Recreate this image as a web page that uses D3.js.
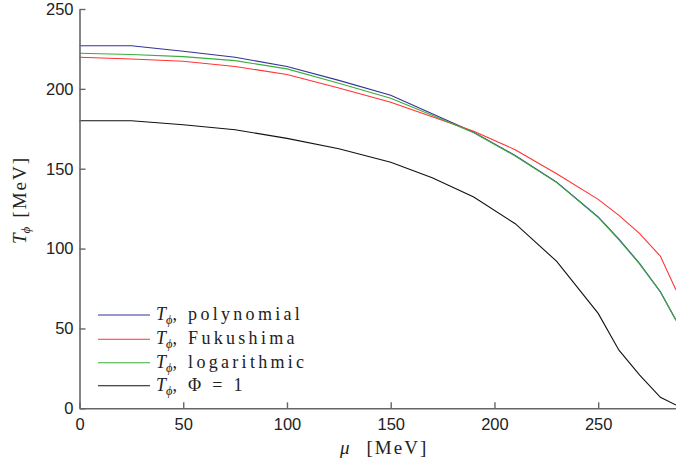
<!DOCTYPE html>
<html>
<head>
<meta charset="utf-8">
<script src="https://cdn.jsdelivr.net/npm/d3@7"></script>
<style>
  html, body { margin: 0; padding: 0; background: #fff; }
  svg { display: block; }
  .tick text { font-family: "Liberation Sans", Arial, sans-serif; font-size: 16.5px; fill: #222; }
  .serif { font-family: "Liberation Serif", "DejaVu Serif", serif; fill: #222; }
</style>
</head>
<body>
<script>
// chemical potential grid (MeV)
const mu = [0, 25, 50, 75, 100, 125, 150, 170, 190, 210, 230, 250, 260, 270, 280, 287.5];

// deconfinement temperature T_phi (MeV) for each Polyakov-loop potential
const tPolynomial  = [227, 227, 223.5, 219.8, 214, 205.3, 196, 184.4, 172.9, 158.3, 141.6, 119.8, 106, 90.6, 72.9, 55.2];
const tFukushima   = [219.8, 218.7, 217.3, 214, 209, 200.5, 191.6, 182.5, 173.5, 161.9, 146.9, 130.8, 120.8, 109.4, 95.2, 74];
const tLogarithmic = [222.3, 221.5, 220.2, 217.7, 212.5, 203.5, 194.1, 183.5, 172.5, 158, 141.3, 119.5, 105.5, 90.3, 72.8, 55];
const tPhiOne      = [180, 180, 177.5, 174.4, 169, 162.5, 154, 144.4, 132.3, 115.6, 92, 59.4, 36.4, 20.8, 6.9, 2];

const seriesNames = ["polynomial", "Fukushima", "logarithmic", "\u03A6 = 1"];
const seriesColors = ["#33339a", "#ff3333", "#3aad3a", "#111111"];
const seriesValues = [tPolynomial, tFukushima, tLogarithmic, tPhiOne];

const xTicks = [0, 50, 100, 150, 200, 250];
const yTicks = [0, 50, 100, 150, 200, 250];

const W = 676, H = 468;
const margin = { left: 79.5, right: 0, top: 9, bottom: 59.7 };

const svg = d3.select("body").append("svg").attr("width", W).attr("height", H);

const x = d3.scaleLinear().domain([0, 287.5]).range([margin.left, W - margin.right]);
const y = d3.scaleLinear().domain([0, 250]).range([H - margin.bottom, margin.top]);

// data lines
const line = d3.line().x((d, i) => x(mu[i])).y(d => y(d));
const plot = svg.append("g");
seriesValues.forEach((vals, k) => {
  plot.append("path")
    .datum(vals)
    .attr("d", line)
    .attr("fill", "none")
    .attr("stroke", seriesColors[k])
    .attr("stroke-width", 1.1);
});

// axes with inward ticks
const axisColor = "#666";
const gx = svg.append("g")
  .attr("transform", `translate(0,${y(0)})`)
  .call(d3.axisBottom(x).tickValues(xTicks).tickSize(-6).tickPadding(10).tickSizeOuter(0));
const gy = svg.append("g")
  .attr("transform", `translate(${x(0)},0)`)
  .call(d3.axisLeft(y).tickValues(yTicks).tickSize(-6).tickPadding(6).tickSizeOuter(0));
[gx, gy].forEach(g => {
  g.select(".domain").attr("stroke", axisColor).attr("stroke-width", 1.6);
  g.selectAll(".tick line").attr("stroke", axisColor).attr("stroke-width", 1.4);
});

// axis titles
const xt = svg.append("text").attr("class", "serif")
  .attr("x", 340).attr("y", 454).attr("font-size", 19);
xt.append("tspan").attr("font-style", "italic").text("\u03BC");
xt.append("tspan").attr("dx", 17).attr("letter-spacing", 2).text("[MeV]");

const yt = svg.append("text").attr("class", "serif")
  .attr("transform", `translate(26,${200}) rotate(-90)`)
  .attr("text-anchor", "middle").attr("font-size", 19);
yt.append("tspan").attr("font-style", "italic").text("T");
yt.append("tspan").attr("font-style", "italic").attr("font-size", 13).attr("dy", 4).text("\u03D5");
yt.append("tspan").attr("dy", -4).attr("dx", 9).attr("letter-spacing", 2).text("[MeV]");

// legend
const legendY = [315, 339.3, 362.7, 385.7];
const legend = svg.append("g");
seriesNames.forEach((name, k) => {
  legend.append("line")
    .attr("x1", 98).attr("x2", 150)
    .attr("y1", legendY[k]).attr("y2", legendY[k])
    .attr("stroke", seriesColors[k]).attr("stroke-width", 1.1);
  const t = legend.append("text").attr("class", "serif")
    .attr("x", 156).attr("y", legendY[k] + 5).attr("font-size", 18);
  t.append("tspan").attr("font-style", "italic").text("T");
  t.append("tspan").attr("font-style", "italic").attr("font-size", 12.5).attr("dy", 4).text("\u03D5");
  t.append("tspan").attr("dy", -4).attr("letter-spacing", 3.3).text(", " + name);
});
</script>
</body>
</html>
